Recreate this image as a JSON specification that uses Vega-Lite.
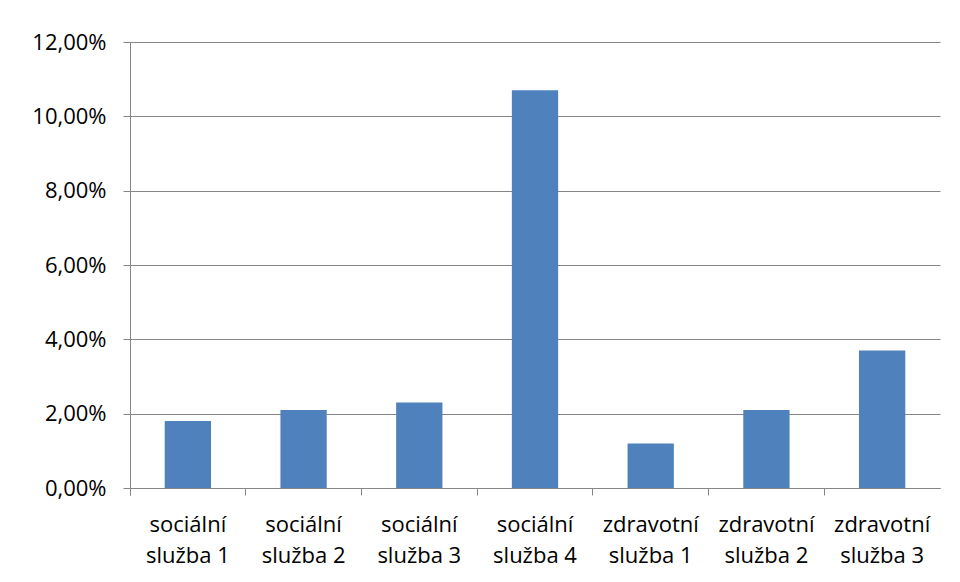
{
  "$schema": "https://vega.github.io/schema/vega-lite/v6.json",
  "width": 810,
  "height": 446,
  "autosize": {"type": "none"},
  "padding": {"left": 130, "top": 42, "right": 20, "bottom": 94},
  "background": "white",
  "config": {
    "locale": {
      "number": {"decimal": ",", "thousands": " ", "grouping": [3], "currency": ["", " Kč"], "percent": "%"}
    },
    "view": {"stroke": null},
    "font": "Open Sans",
    "axis": {
      "labelFont": "Open Sans",
      "labelFontSize": 22,
      "labelColor": "#000000",
      "domainColor": "#868686",
      "tickColor": "#868686",
      "gridColor": "#868686",
      "domainWidth": 1,
      "tickWidth": 1,
      "gridWidth": 1,
      "tickSize": 7,
      "title": null
    }
  },
  "data": {
    "values": [
      {"sluzba": "sociální služba 1", "podil": 0.018},
      {"sluzba": "sociální služba 2", "podil": 0.021},
      {"sluzba": "sociální služba 3", "podil": 0.023},
      {"sluzba": "sociální služba 4", "podil": 0.107},
      {"sluzba": "zdravotní služba 1", "podil": 0.012},
      {"sluzba": "zdravotní služba 2", "podil": 0.021},
      {"sluzba": "zdravotní služba 3", "podil": 0.037}
    ]
  },
  "mark": {"type": "bar", "color": "#4F81BD", "width": {"band": 0.4}},
  "encoding": {
    "x": {
      "field": "sluzba",
      "type": "nominal",
      "sort": null,
      "scale": {"paddingInner": 0, "paddingOuter": 0},
      "axis": {
        "bandPosition": 0,
        "tickExtra": true,
        "labelAngle": 0,
        "labelBaseline": "top",
        "labelPadding": 19,
        "labelLineHeight": 31,
        "labelExpr": "[slice(datum.label, 0, indexof(datum.label, ' ')), slice(datum.label, indexof(datum.label, ' ') + 1)]"
      }
    },
    "y": {
      "field": "podil",
      "type": "quantitative",
      "scale": {"domain": [0, 0.12], "nice": false},
      "axis": {
        "values": [0, 0.02, 0.04, 0.06, 0.08, 0.1, 0.12],
        "format": ".2%",
        "grid": true,
        "labelPadding": 17
      }
    }
  }
}
